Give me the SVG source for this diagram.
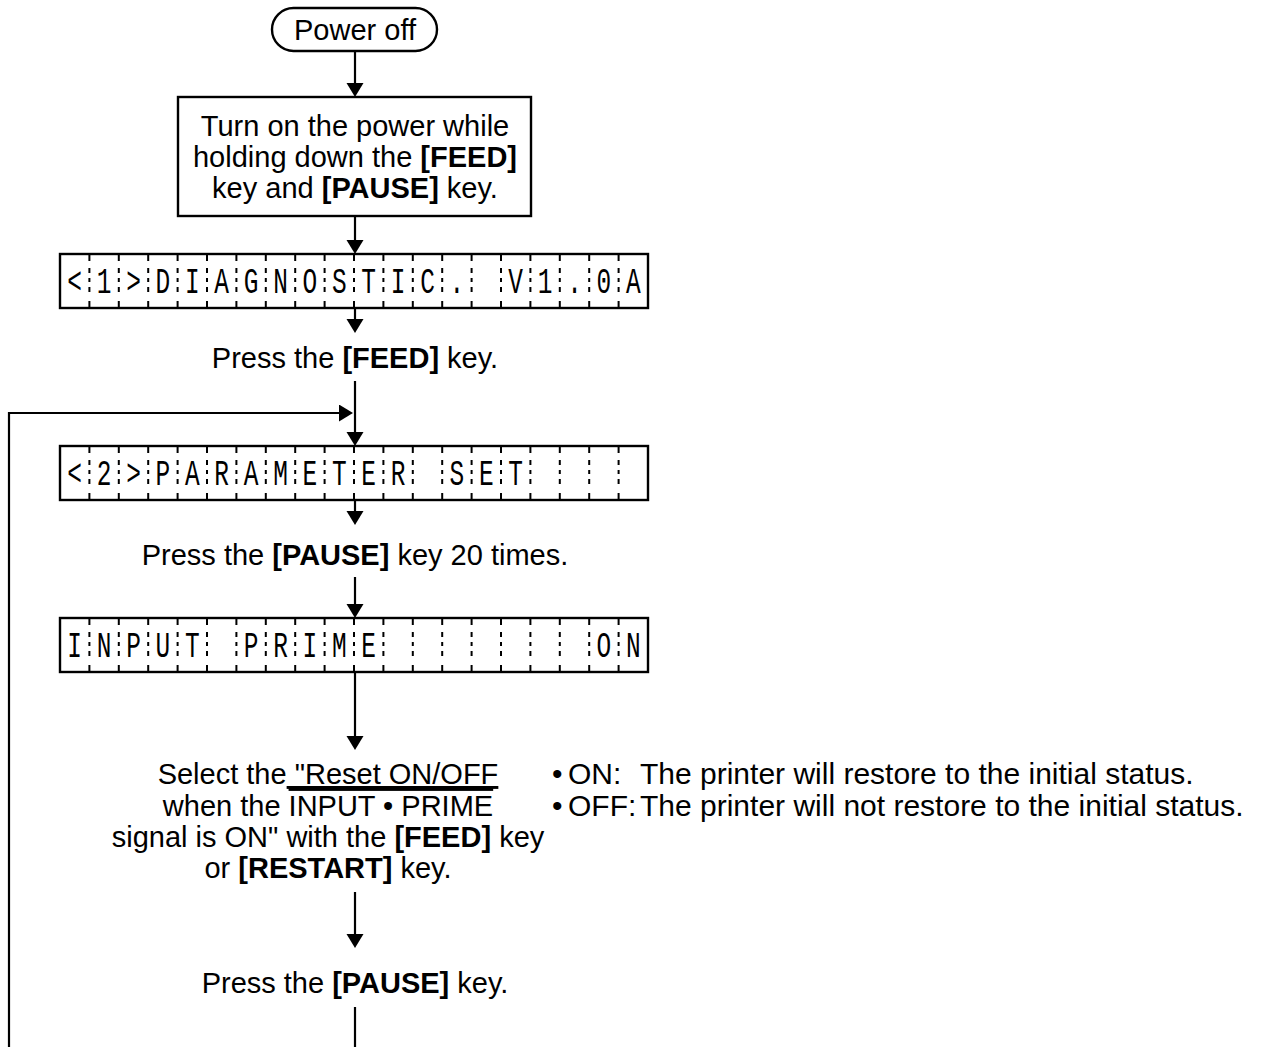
<svg xmlns="http://www.w3.org/2000/svg" width="1267" height="1047" viewBox="0 0 1267 1047">
<style>
.ln{fill:none;stroke:#000;stroke-width:2.2}
.bx{fill:#fff;stroke:#000;stroke-width:2.4}
.t{font-family:"Liberation Sans",Arial,Helvetica,sans-serif;font-size:29px;fill:#000}
.o{font-size:30px}
.b{font-weight:bold}
.lcd{font-family:"Liberation Mono","Courier New",monospace;font-size:36px;fill:#000}
.dv{fill:none;stroke:#000;stroke-width:2;stroke-dasharray:7 7 5 5 4 5 5 9 7}
</style>
<defs>
<marker id="ah" markerUnits="userSpaceOnUse" markerWidth="16" markerHeight="18" refX="8" refY="8.5" orient="auto">
<path d="M0,0 L14,8.5 L0,17 z" fill="#000"/>
</marker>
</defs>
<rect width="1267" height="1047" fill="#fff"/>

<g id="connectors">
<path class="ln" d="M355 51 V91" marker-end="url(#ah)"/>
<path class="ln" d="M355 216 V248" marker-end="url(#ah)"/>
<path class="ln" d="M355 308 V327" marker-end="url(#ah)"/>
<path class="ln" d="M355 381 V440" marker-end="url(#ah)"/>
<path class="ln" d="M9 1047 V413 H347" marker-end="url(#ah)"/>
<path class="ln" d="M355 500 V519" marker-end="url(#ah)"/>
<path class="ln" d="M355 577 V612" marker-end="url(#ah)"/>
<path class="ln" d="M355 672 V744" marker-end="url(#ah)"/>
<path class="ln" d="M355 892 V942" marker-end="url(#ah)"/>
<path class="ln" d="M355 1007 V1047"/>
</g>

<g id="n-poweroff">
<rect class="bx" x="272" y="8" width="165" height="43" rx="21.5" ry="21.5"/>
<text class="t" x="355" y="40" text-anchor="middle">Power off</text>
</g>

<g id="n-turnon">
<rect class="bx" x="178" y="97" width="353" height="119"/>
<text class="t" x="355" y="136" text-anchor="middle">Turn on the power while</text>
<text class="t" x="355" y="167" text-anchor="middle">holding down the <tspan class="b">[FEED]</tspan></text>
<text class="t" x="355" y="198" text-anchor="middle">key and <tspan class="b">[PAUSE]</tspan> key.</text>
</g>

<g id="n-lcd1">
<rect class="bx" x="60" y="254" width="588" height="54"/>
<path class="dv" d="M89.4 254V308M118.8 254V308M148.2 254V308M177.6 254V308M207 254V308M236.4 254V308M265.8 254V308M295.2 254V308M324.6 254V308M354 254V308M383.4 254V308M412.8 254V308M442.2 254V308M471.6 254V308M501 254V308M530.4 254V308M559.8 254V308M589.2 254V308M618.6 254V308"/>
<g transform="scale(0.68,1)">
<text class="lcd" xml:space="preserve" style="white-space:pre" text-anchor="middle" y="293" x="109.85 153.09 196.32 239.56 282.79 326.03 369.26 412.5 455.74 498.97 542.21 585.44 628.68 671.91 715.15 758.38 801.62 844.85 888.09 931.32">&lt;1&gt;DIAGNOSTIC. V1.0A</text>
</g>
</g>

<g id="n-feed1">
<text class="t" x="355" y="368" text-anchor="middle">Press the <tspan class="b">[FEED]</tspan> key.</text>
</g>

<g id="n-lcd2">
<rect class="bx" x="60" y="446" width="588" height="54"/>
<path class="dv" d="M89.4 446V500M118.8 446V500M148.2 446V500M177.6 446V500M207 446V500M236.4 446V500M265.8 446V500M295.2 446V500M324.6 446V500M354 446V500M383.4 446V500M412.8 446V500M442.2 446V500M471.6 446V500M501 446V500M530.4 446V500M559.8 446V500M589.2 446V500M618.6 446V500"/>
<g transform="scale(0.68,1)">
<text class="lcd" xml:space="preserve" style="white-space:pre" text-anchor="middle" y="485" x="109.85 153.09 196.32 239.56 282.79 326.03 369.26 412.5 455.74 498.97 542.21 585.44 628.68 671.91 715.15 758.38 801.62 844.85 888.09 931.32">&lt;2&gt;PARAMETER SET</text>
</g>
</g>

<g id="n-pause20">
<text class="t" x="355" y="565" text-anchor="middle">Press the <tspan class="b">[PAUSE]</tspan> key 20 times.</text>
</g>

<g id="n-lcd3">
<rect class="bx" x="60" y="618" width="588" height="54"/>
<path class="dv" d="M89.4 618V672M118.8 618V672M148.2 618V672M177.6 618V672M207 618V672M236.4 618V672M265.8 618V672M295.2 618V672M324.6 618V672M354 618V672M383.4 618V672M412.8 618V672M442.2 618V672M471.6 618V672M501 618V672M530.4 618V672M559.8 618V672M589.2 618V672M618.6 618V672"/>
<g transform="scale(0.68,1)">
<text class="lcd" xml:space="preserve" style="white-space:pre" text-anchor="middle" y="657" x="109.85 153.09 196.32 239.56 282.79 326.03 369.26 412.5 455.74 498.97 542.21 585.44 628.68 671.91 715.15 758.38 801.62 844.85 888.09 931.32">INPUT PRIME       ON</text>
</g>
</g>

<g id="n-select">
<text class="t" x="328" y="784" text-anchor="middle" xml:space="preserve">Select the<tspan text-decoration="underline"> "Reset ON/OFF</tspan></text>
<text class="t" x="328" y="816" text-anchor="middle">when the <tspan text-decoration="overline">INPUT • PRIME</tspan></text>
<text class="t" x="328" y="847" text-anchor="middle">signal is ON" with the <tspan class="b">[FEED]</tspan> key</text>
<text class="t" x="328" y="878" text-anchor="middle">or <tspan class="b">[RESTART]</tspan> key.</text>
</g>

<g id="n-options">
<text class="t o" y="784"><tspan x="552">•</tspan><tspan x="568">ON:</tspan><tspan x="640">The printer will restore to the initial status.</tspan></text>
<text class="t o" y="816"><tspan x="552">•</tspan><tspan x="568">OFF:</tspan><tspan x="640">The printer will not restore to the initial status.</tspan></text>
</g>

<g id="n-pause">
<text class="t" x="355" y="993" text-anchor="middle">Press the <tspan class="b">[PAUSE]</tspan> key.</text>
</g>
</svg>
